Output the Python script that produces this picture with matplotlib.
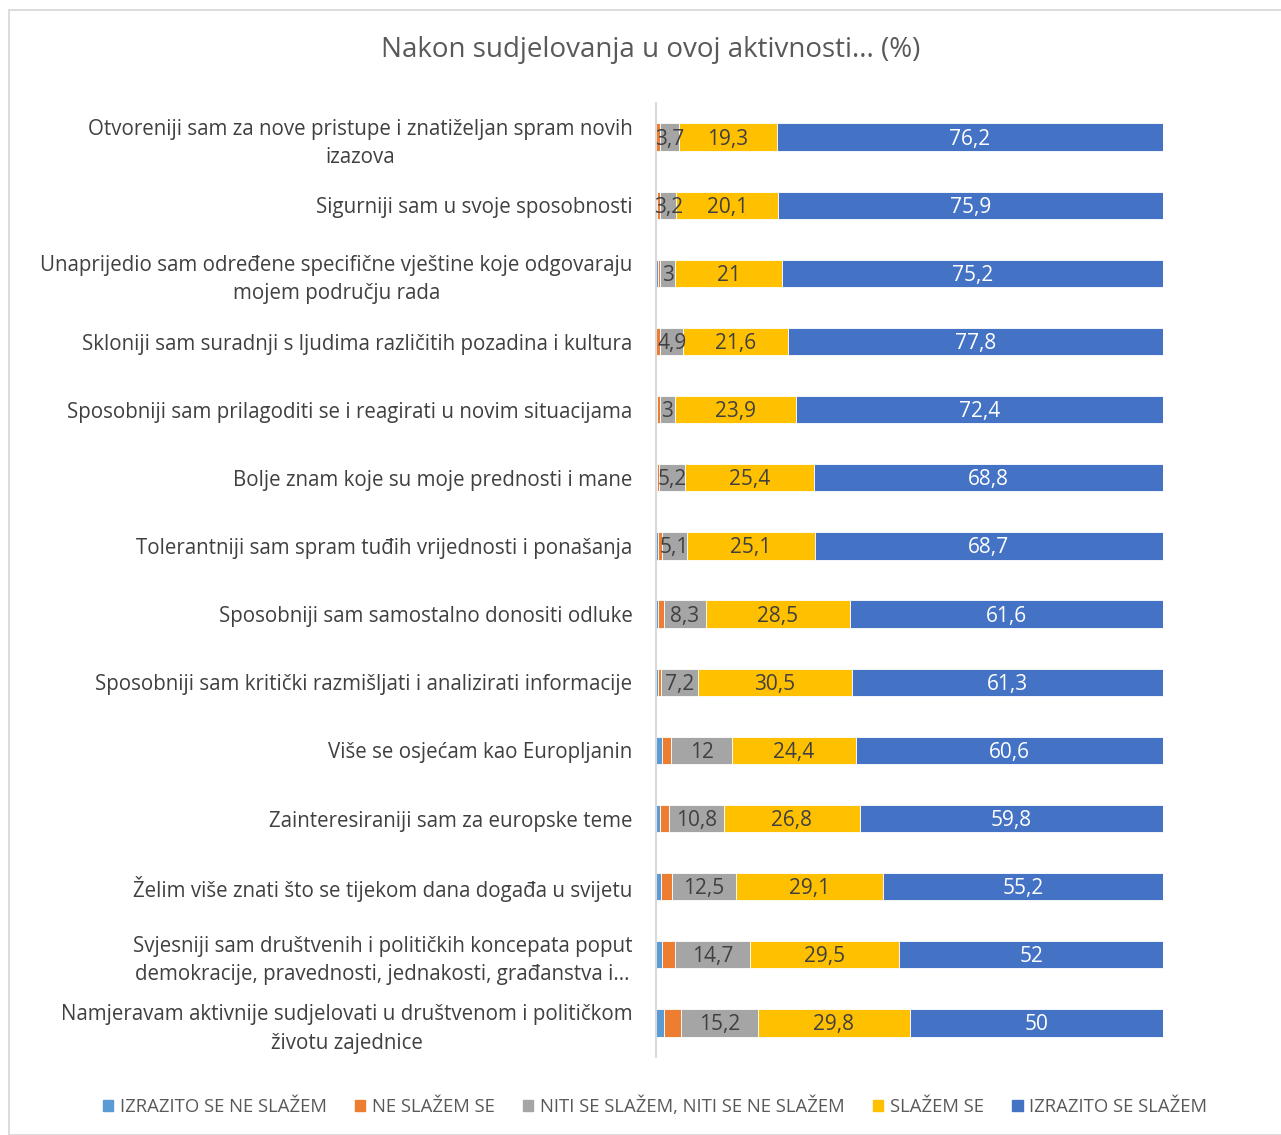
import matplotlib
matplotlib.use("Agg")
import matplotlib.pyplot as plt
import matplotlib.transforms as mtransforms
import numpy as np
from matplotlib.patches import Rectangle

categories = [
    "Otvoreniji sam za nove pristupe i znatiželjan spram novih\nizazova",
    "Sigurniji sam u svoje sposobnosti",
    "Unaprijedio sam određene specifične vještine koje odgovaraju\nmojem području rada",
    "Skloniji sam suradnji s ljudima različitih pozadina i kultura",
    "Sposobniji sam prilagoditi se i reagirati u novim situacijama",
    "Bolje znam koje su moje prednosti i mane",
    "Tolerantniji sam spram tuđih vrijednosti i ponašanja",
    "Sposobniji sam samostalno donositi odluke",
    "Sposobniji sam kritički razmišljati i analizirati informacije",
    "Više se osjećam kao Europljanin",
    "Zainteresiraniji sam za europske teme",
    "Želim više znati što se tijekom dana događa u svijetu",
    "Svjesniji sam društvenih i političkih koncepata poput\ndemokracije, pravednosti, jednakosti, građanstva i...",
    "Namjeravam aktivnije sudjelovati u društvenom i političkom\nživotu zajednice",
]
series_names = ["IZRAZITO SE NE SLAŽEM", "NE SLAŽEM SE", "NITI SE SLAŽEM, NITI SE NE SLAŽEM",
                "SLAŽEM SE", "IZRAZITO SE SLAŽEM"]
strongly_disagree = [0.0, 0.1, 0.4, 0.1, 0.2, 0.1, 0.3, 0.4, 0.3, 1.2, 0.8, 1.0, 1.2, 1.6]
disagree = [0.8, 0.7, 0.4, 0.7, 0.5, 0.5, 0.8, 1.1, 0.7, 1.8, 1.8, 2.2, 2.6, 3.4]
neutral = [3.7, 3.2, 3, 4.9, 3, 5.2, 5.1, 8.3, 7.2, 12, 10.8, 12.5, 14.7, 15.2]
agree = [19.3, 20.1, 21, 21.6, 23.9, 25.4, 25.1, 28.5, 30.5, 24.4, 26.8, 29.1, 29.5, 29.8]
strongly_agree = [76.2, 75.9, 75.2, 77.8, 72.4, 68.8, 68.7, 61.6, 61.3, 60.6, 59.8, 55.2, 52, 50]
title = "Nakon sudjelovanja u ovoj aktivnosti... (%)"

colors = ["#5B9BD5", "#ED7D31", "#A5A5A5", "#FFC000", "#4472C4"]
label_colors = [None, None, "#404040", "#404040", "white"]

plt.rcParams['font.family'] = ['Open Sans', 'DejaVu Sans']

W, H = 1281, 1135
fig = plt.figure(figsize=(W / 100, H / 100), dpi=100)

# border
fig.patches.append(Rectangle((8.5 / W, 0), (W - 8.5) / W + 0.01, 1 - 9.5 / H,
                             transform=fig.transFigure, fill=False,
                             edgecolor="#D9D9D9", linewidth=1.3, clip_on=False))

ax_left, ax_right = 656, 1163
ax_top, ax_bot = 103, 1057
ax = fig.add_axes([ax_left / W, 1 - ax_bot / H, (ax_right - ax_left) / W, (ax_bot - ax_top) / H])

data = np.array([strongly_disagree, disagree, neutral, agree, strongly_agree], dtype=float)
totals = data.sum(axis=0)
pct = data / totals * 100
y = np.arange(len(categories))
left = np.zeros(len(categories))
lab_trans = ax.transData + mtransforms.ScaledTranslation(0, -2 / 100, fig.dpi_scale_trans)
for k in range(5):
    ax.barh(y, pct[k], left=left, height=0.4, color=colors[k], label=series_names[k],
            edgecolor="white", linewidth=0.6)
    if label_colors[k] is not None:
        for i in range(len(categories)):
            v = data[k][i]
            txt = ("%g" % v).replace(".", ",")
            ax.text(left[i] + pct[k][i] / 2, y[i], txt, ha="center", va="center",
                    color=label_colors[k], fontsize=15, transform=lab_trans)
    left += pct[k]

ax.set_xlim(0, 100)
ax.set_ylim(len(categories) - 0.5, -0.5)
ax.set_yticks(y)
ax.set_yticklabels(categories, fontsize=14.8, color="#404040", multialignment="center",
                   linespacing=1.45)
ax.tick_params(axis="y", length=0, pad=17)
ax.set_xticks([])
for s in ["top", "right", "bottom"]:
    ax.spines[s].set_visible(False)
ax.spines["left"].set_color("#D9D9D9")
ax.spines["left"].set_linewidth(1.5)

fig.text(651 / W, 1 - 50 / H, title, ha="center", va="center", fontsize=20, color="#595959")

handles = [Rectangle((0, 0), 1, 1, color=c) for c in colors]
fig.legend(handles, series_names, loc="center", bbox_to_anchor=(655 / W, 1 - 1106 / H),
           ncol=5, frameon=False, fontsize=13.3, labelcolor="#595959",
           handlelength=0.55, handleheight=0.55, handletextpad=0.35, columnspacing=1.55)

fig.savefig("out.png", dpi=100)
